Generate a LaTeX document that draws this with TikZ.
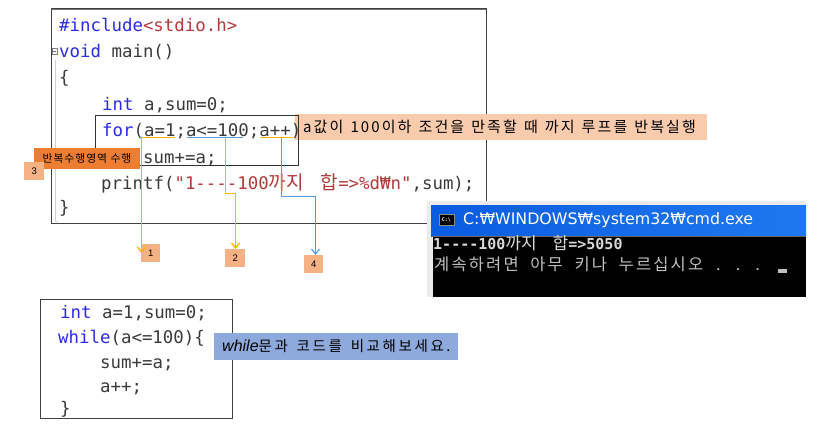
\documentclass[tikz,border=0pt]{standalone}
\usepackage{fontspec}
\usetikzlibrary{arrows.meta}
\setmainfont{Noto Sans CJK KR}
\setsansfont{Liberation Sans}
\setmonofont{DejaVu Sans Mono}
\newfontfamily\wonfont{DejaVu Sans}
\newfontfamily\kwideA[LetterSpace=14,WordSpace=1.3]{Noto Sans CJK KR}
\newfontfamily\kwideB[LetterSpace=18,WordSpace=1.5]{Noto Sans CJK KR}
\newfontfamily\kwideC[LetterSpace=9]{Noto Sans CJK KR}
\newfontfamily\kwideD[LetterSpace=13,WordSpace=2]{Noto Sans CJK KR}
\newcommand{\cf}{\fontsize{17.4}{20}\ttfamily\selectfont}
\newcommand{\kf}[1]{{\rmfamily\fontsize{19}{20}\selectfont #1}}
\definecolor{kwblue}{HTML}{2A2AE6}
\definecolor{strred}{HTML}{B23A3A}
\definecolor{codeink}{HTML}{3A3A3A}
\definecolor{ybar}{HTML}{FFB400}
\definecolor{bbar}{HTML}{5B9BD5}
\definecolor{peachfill}{HTML}{F8CBAD}
\definecolor{tagfill}{HTML}{F4B183}
\definecolor{orfill}{HTML}{ED7D31}
\definecolor{bluefill}{HTML}{8EA9DB}
\definecolor{titleL}{HTML}{0A5CE0}
\definecolor{titleR}{HTML}{1F78F0}
\tikzset{
 x=1pt,y=-1pt,
 codeline/.style={anchor=base west,inner sep=0pt,font=\cf,text=codeink},
 frame/.style={draw=black!75,line width=0.9pt},
 tag/.style={fill=tagfill,inner sep=0pt,anchor=north west,font=\fontsize{9.5}{11}\sffamily\selectfont},
 ylink/.style={color=ybar,line width=1.4pt},
 blink/.style={color=bbar,line width=1.2pt},
 tip/.style={-{Straight Barb[length=5pt,width=8pt]}},
}
\begin{document}
\begin{tikzpicture}
\useasboundingbox[fill=white] (0,0) rectangle (816,435);
% main code frame
\draw[frame] (51,8.5) rectangle (486,223);
\draw[black!55,line width=1pt] (51,10) -- (486,10);
\draw[black!18,line width=0.7pt] (55,60) -- (55,221.5) -- (58,221.5);
\draw[black!50,line width=0.5pt,fill=white] (52,48.5) rectangle (57,54);
\draw[black!60,line width=0.5pt] (53,51.2) -- (56,51.2);
% note background
\fill[peachfill] (295,114) rectangle (707,140);
% code
\node[codeline] (l1) at (59,32) {\textcolor{kwblue}{\#include}\textcolor{strred}{<stdio.h>}};
\node[codeline] (l2) at (59,58) {\textcolor{kwblue}{void} main()};
\node[codeline] (l3) at (59,84) {\{};
\node[codeline] (l4) at (102,111) {\textcolor{kwblue}{int} a,sum=0;};
\node[codeline] (l5) at (102,137) {\textcolor{kwblue}{for}(a=1;a<=100;a++)};
\node[codeline] (l6) at (143,164) {sum+=a;};
\node[codeline] (l7) at (101,190) {printf(\textcolor{strred}{"1----100\kf{까지\hspace{17pt}합}=>\%d₩n"},sum);};
\node[codeline] (l8) at (59,214) {\}};
% for box
\node[draw=black!80,line width=0.9pt,inner sep=0pt,minimum width=203.5pt,minimum height=50pt,anchor=north west] (forbox) at (94.5,115) {};
% note
\node[anchor=base west,inner sep=0pt,font=\fontsize{15}{18}\kwideA\selectfont,text=black] (notetext) at (303,133) {a값이 100이하 조건을 만족할 때 까지 루프를 반복실행};
% connectors
\coordinate (a1) at (175,137.5); \coordinate (a1c) at (141.5,137.5);
\coordinate (a2) at (186.5,137.5); \coordinate (a2e) at (242.5,137.5);
\coordinate (a2s) at (225.5,137.5); \coordinate (a2m) at (225.5,193.5); \coordinate (a2n) at (235.5,193.5);
\coordinate (a3) at (260,137.5); \coordinate (a3e) at (293,137.5);
\coordinate (a4s) at (281.5,137.5); \coordinate (a4m) at (281.5,196.5); \coordinate (a4n) at (315.5,196.5);
% tags
\node[tag,minimum width=19pt,minimum height=18pt] (t1) at (141,244) {1};
\node[tag,minimum width=20pt,minimum height=17.5pt] (t2) at (225,249) {2};
\node[tag,minimum width=19pt,minimum height=18pt] (t4) at (304,255) {4};
\draw[ylink,tip] (a1) -- (a1c) -- (a1c |- t1.center);
\draw[blink] (a2) -- (a2e);
\draw[ylink,tip] (a2s) -- (a2m) -- (a2n) -- (a2n |- t2.north);
\draw[ylink] (a3) -- (a3e);
\draw[blink,tip] (a4s) -- (a4m) -- (a4n) -- (a4n |- t4.north);
% orange label
\node[fill=orfill,inner sep=0pt,minimum width=106pt,minimum height=21pt,anchor=north west] (rep) at (34,148) {};
\node[anchor=base,inner sep=0pt,font=\fontsize{10.8}{12}\kwideC\selectfont,text=black] (reptext) at (87,163) {반복수행영역 수행};
\node[tag,minimum width=20pt,minimum height=18pt] (t3) at (24,162) {3};
% console
\fill[black!8] (427,201) rectangle (806,297);
\node[inner sep=0pt,minimum width=375pt,minimum height=31pt,anchor=north west,left color=titleL,right color=titleR] (title) at (431,205) {};
\fill[black] (433,237) rectangle (806,297);
\draw[black!60,line width=0.8pt] (432,236.5) -- (806,236.5);
\node[draw=black!45,fill=black,line width=0.7pt,inner sep=0pt,minimum width=15pt,minimum height=11pt,anchor=north west,text=white,font=\fontsize{5}{6}\ttfamily\bfseries\selectfont] (icon) at (438.5,214.5) {C:\textbackslash};
\node[anchor=base west,inner sep=0pt,text=white,font=\fontsize{15.8}{18}\selectfont\wonfont] (titletext) at (463,225) {C:₩WINDOWS₩system32₩cmd.exe};
\node[anchor=base west,inner sep=0pt,text=white!85!black,font=\fontsize{15}{16}\ttfamily\bfseries\selectfont] (o1) at (433,250) {1----100{\rmfamily\mdseries\fontsize{17}{16}\selectfont 까지\hspace{16pt}합}=>5050};
\node[anchor=base west,inner sep=0pt,text=black!25,font=\fontsize{16.5}{18}\kwideD\selectfont] (o2) at (434,271) {계속하려면 아무 키나 누르십시오\hspace{13pt}.\hspace{15pt}.\hspace{15pt}.};
\fill[black!25] (778,269) rectangle (787,273.5);
% while box
\node[draw=black!75,line width=0.9pt,inner sep=0pt,minimum width=192pt,minimum height=118.5pt,anchor=north west] (wbox) at (39.5,299.5) {};
\node[codeline] (w1) at (60,319) {\textcolor{kwblue}{int} a=1,sum=0;};
\node[codeline] (w2) at (58,344) {\textcolor{kwblue}{while}(a<=100)\{};
\node[codeline] (w3) at (100,368) {sum+=a;};
\node[codeline] (w4) at (100,392) {a++;};
\node[codeline] (w5) at (60,414) {\}};
\node[fill=bluefill,inner sep=0pt,minimum width=244pt,minimum height=27pt,anchor=north west] (wnote) at (214,333) {};
\node[anchor=base west,inner sep=0pt,text=black,font=\fontsize{14.5}{16}\kwideB\selectfont] (wnotetext) at (222,352) {{\sffamily\itshape\fontsize{16}{16}\selectfont while}문과 코드를 비교해보세요.};
\end{tikzpicture}
\end{document}
